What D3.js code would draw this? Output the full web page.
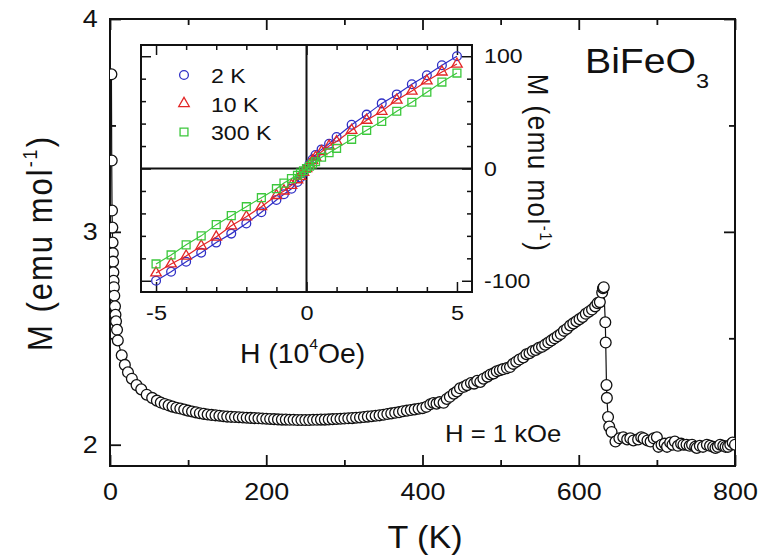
<!DOCTYPE html>
<html>
<head>
<meta charset="utf-8">
<script src="https://cdn.jsdelivr.net/npm/d3@7"></script>
<style>
  body { margin: 0; background: #fff; }
  svg { display: block; }
</style>
</head>
<body>
<div id="chart"></div>
<script>
// main curve: M(T) at H = 1 kOe
var tempK = [1.8, 2.2, 2.6, 3, 3.3, 3.6, 4, 4.3, 4.6, 5, 5.5, 6.4, 7, 7.7, 9, 10, 15, 19, 23, 28, 34, 40, 47, 54,
  60, 65, 70, 75, 80, 85, 90, 95, 100, 105, 110, 115, 120, 125, 130, 135, 140, 145, 150, 155, 160, 165, 170,
  175, 180, 185, 190, 195, 200, 205, 210, 215, 220, 225, 230, 235, 240, 245, 250, 255, 260, 265, 270, 275,
  280, 285, 290, 295, 300, 305, 310, 315, 320, 325, 330, 335, 340, 345, 350, 355, 360, 365, 370, 375, 380,
  385, 390, 395, 400, 405, 410, 414, 418, 422, 427, 431, 435, 440, 444, 448, 453, 457, 462, 466, 470, 474,
  478, 483, 487, 491, 495, 499, 503, 508, 512, 516, 520, 524, 529, 533, 537, 541, 545, 549, 553, 557, 561,
  565, 569, 573, 577, 581, 585, 589, 593, 597, 601, 605, 609, 613, 617, 621, 624, 627, 630, 631, 632,
  634, 634.5, 635.5, 636, 637.5, 639, 642, 647, 652, 657, 662, 666, 670, 676, 680, 683, 688, 692, 696, 700,
  702, 706, 710, 713, 717, 720, 723, 727, 731, 734, 738, 742, 745, 749, 751, 755, 759, 764, 768, 772, 775,
  778, 781, 785, 788, 791, 794, 797, 800];
var magT = [3.74, 3.335, 3.10, 3.02, 2.95, 2.90, 2.86, 2.81, 2.77, 2.74, 2.70, 2.65, 2.61, 2.58, 2.54, 2.49,
  2.42, 2.375, 2.34, 2.31, 2.28, 2.26, 2.235, 2.22,
  2.207, 2.198, 2.191, 2.185, 2.179, 2.174, 2.170, 2.165, 2.160, 2.156, 2.152, 2.148, 2.145, 2.142, 2.140,
  2.138, 2.136, 2.134, 2.132, 2.131, 2.130, 2.129, 2.128, 2.127, 2.126, 2.125, 2.124, 2.123, 2.122, 2.121,
  2.120, 2.119, 2.118, 2.118, 2.117, 2.117, 2.116, 2.116, 2.116, 2.116, 2.117, 2.117, 2.118, 2.118, 2.119,
  2.120, 2.121, 2.122, 2.123, 2.124, 2.125, 2.127, 2.128, 2.130, 2.132, 2.134, 2.136, 2.138, 2.141, 2.144,
  2.147, 2.150, 2.153, 2.157, 2.160, 2.163, 2.166, 2.169, 2.172, 2.178, 2.190, 2.196, 2.193, 2.200, 2.197,
  2.215, 2.225, 2.240, 2.250, 2.265, 2.272, 2.280, 2.290, 2.287, 2.300, 2.295, 2.310, 2.320, 2.330, 2.335,
  2.345, 2.350, 2.355, 2.360, 2.365, 2.380, 2.390, 2.400, 2.410, 2.425, 2.430, 2.440, 2.445, 2.455, 2.460,
  2.470, 2.480, 2.490, 2.500, 2.510, 2.520, 2.535, 2.545, 2.560, 2.570, 2.580, 2.590, 2.600, 2.615, 2.625,
  2.635, 2.650, 2.665, 2.670, 2.715, 2.735, 2.740,
  2.575, 2.48, 2.28, 2.22, 2.13, 2.085, 2.06, 2.015, 2.03, 2.035, 2.025, 2.03, 2.02, 2.025, 2.035, 2.03,
  2.02, 2.015, 2.03, 2.035, 1.99, 2.00, 2.005, 1.99, 2.01, 2.00, 2.015, 1.995, 2.005, 2.00, 2.00, 1.995,
  2.00, 1.99, 1.985, 1.995, 1.99, 2.00, 1.995, 1.99, 1.985, 1.99, 2.00, 1.995, 1.99, 1.99, 2.00, 2.01, 2.00];

// inset: M(H) loops
var fieldH = [-5, -4.5, -4, -3.5, -3, -2.5, -2, -1.5, -1, -0.75, -0.5, -0.3, -0.2, -0.1, 0,
  0.1, 0.2, 0.3, 0.5, 0.75, 1, 1.5, 2, 2.5, 3, 3.5, 4, 4.5, 5];
var m2K = [-100, -92, -83, -75, -66, -58, -49, -39, -28, -23, -18, -12, -8, -4, 0,
  4, 8, 12, 17, 22, 28, 39, 48, 58, 66, 75, 83, 92, 100];
var m10K = [-93, -85, -78, -69, -61, -51, -43, -34, -24, -20, -15, -10, -7, -3.5, 0,
  3.5, 7, 10, 15, 20, 24, 34, 43, 51, 61, 69, 78, 86, 93];
var m300K = [-85, -77, -68, -60, -50, -42, -34, -26, -18, -13, -9, -6, -4, -2, 0,
  2, 4, 6, 10, 14, 18, 26, 34, 42, 51, 59, 68, 77, 85];
var seriesNames = ["2 K", "10 K", "300 K"];
var seriesColors = ["#2f2fc6", "#e32626", "#3cc83c"];

var xMajor = [0, 200, 400, 600, 800], xMinor = [100, 300, 500, 700];
var yMajor = [2, 3, 4], yMinor = [2.5, 3.5];
var hMinor = [-4, -3, -2, -1, 1, 2, 3, 4], hMajor = [-5, 0, 5];
var mMinor = [-80, -60, -40, -20, 20, 40, 60, 80], mMajor = [-100, 0, 100];

var FONT = "'Liberation Sans', Arial, Helvetica, sans-serif";
var W = 760, H = 559;

var svg = d3.select("#chart").append("svg")
  .attr("width", W).attr("height", H)
  .style("font-family", FONT);

// ---- main plot ----
var x = d3.scaleLinear().domain([0, 800]).range([110, 735]);
var y = d3.scaleLinear().domain([1.9, 4]).range([466, 19]);

svg.append("clipPath").attr("id", "mainclip")
  .append("rect")
  .attr("x", x(0)).attr("y", y(4))
  .attr("width", x(800) - x(0)).attr("height", y(1.9) - y(4));

function tidy(g, sw) {
  g.select(".domain").remove();
  g.selectAll("line").attr("stroke", "#111").attr("stroke-width", sw);
  g.selectAll("text").attr("fill", "#111").style("font-family", FONT);
}

// ticks (inward)
svg.append("g").attr("transform", `translate(0,${y(1.9)})`)
  .call(d3.axisBottom(x).tickValues(xMinor).tickSize(-6).tickFormat(""))
  .call(tidy, 1.8);
svg.append("g").attr("transform", `translate(0,${y(1.9)})`)
  .call(d3.axisBottom(x).tickValues(xMajor).tickSize(-11).tickPadding(17).tickFormat(d => String(d)))
  .call(tidy, 1.8)
  .selectAll("text").attr("font-size", 24).attr("transform", "scale(1.12,1)");
svg.append("g").attr("transform", `translate(0,${y(4)})`)
  .call(d3.axisTop(x).tickValues(xMinor).tickSize(-6).tickFormat(""))
  .call(tidy, 1.8);
svg.append("g").attr("transform", `translate(0,${y(4)})`)
  .call(d3.axisTop(x).tickValues(xMajor).tickSize(-11).tickFormat(""))
  .call(tidy, 1.8);

svg.append("g").attr("transform", `translate(${x(0)},0)`)
  .call(d3.axisLeft(y).tickValues(yMinor).tickSize(-6).tickFormat(""))
  .call(tidy, 1.8);
svg.append("g").attr("transform", `translate(${x(0)},0)`)
  .call(d3.axisLeft(y).tickValues(yMajor).tickSize(-11).tickPadding(11).tickFormat(d => String(d)))
  .call(tidy, 1.8)
  .selectAll("text").attr("font-size", 24).attr("transform", "scale(1.12,1)");
svg.append("g").attr("transform", `translate(${x(800)},0)`)
  .call(d3.axisRight(y).tickValues(yMinor).tickSize(-6).tickFormat(""))
  .call(tidy, 1.8);
svg.append("g").attr("transform", `translate(${x(800)},0)`)
  .call(d3.axisRight(y).tickValues(yMajor).tickSize(-11).tickFormat(""))
  .call(tidy, 1.8);

// frame
svg.append("rect")
  .attr("x", x(0)).attr("y", y(4))
  .attr("width", x(800) - x(0)).attr("height", y(1.9) - y(4))
  .attr("fill", "none").attr("stroke", "#111").attr("stroke-width", 2);

// data
var mtData = tempK.map((t, i) => ({ t: t, m: magT[i] }));
var plotArea = svg.append("g").attr("clip-path", "url(#mainclip)");
plotArea.append("path")
  .datum(mtData)
  .attr("d", d3.line().x(d => x(d.t)).y(d => y(d.m)))
  .attr("fill", "none").attr("stroke", "#111").attr("stroke-width", 1.2);
plotArea.selectAll(".mt-circle")
  .data(mtData)
  .enter()
  .append("circle")
  .attr("class", "mt-circle")
  .attr("cx", d => x(d.t))
  .attr("cy", d => y(d.m))
  .attr("r", 5.4)
  .attr("fill", "#fff")
  .attr("stroke", "#111")
  .attr("stroke-width", 1.3);

// axis titles
svg.append("text")
  .attr("transform", `translate(425,548) scale(1.1,1)`)
  .attr("text-anchor", "middle")
  .attr("font-size", 31)
  .attr("fill", "#111")
  .text("T (K)");

var yTitle = svg.append("text")
  .attr("transform", `translate(52,243) scale(1.12,1) rotate(-90)`)
  .attr("text-anchor", "middle")
  .attr("font-size", 31)
  .attr("letter-spacing", 2)
  .attr("fill", "#111");
yTitle.append("tspan").text("M (emu mol");
yTitle.append("tspan").attr("font-size", 18).attr("dy", -13).text("-1");
yTitle.append("tspan").attr("dy", 13).text(")");

// labels in the plot
var bfo = svg.append("text")
  .attr("transform", "translate(585,73) scale(1.12,1)")
  .attr("font-size", 35)
  .attr("fill", "#111");
bfo.append("tspan").text("BiFeO");
bfo.append("tspan").attr("font-size", 21).attr("dy", 15).text("3");

svg.append("text")
  .attr("transform", "translate(445,442) scale(1.07,1)")
  .attr("font-size", 24)
  .attr("fill", "#111")
  .text("H = 1 kOe");

// ---- inset ----
var hx = d3.scaleLinear().domain([-5.5, 5.5]).range([141, 472]);
var my = d3.scaleLinear().domain([-110, 110]).range([292, 45]);

svg.append("rect")
  .attr("x", hx(-5.5)).attr("y", my(110))
  .attr("width", hx(5.5) - hx(-5.5)).attr("height", my(-110) - my(110))
  .attr("fill", "#fff");

svg.append("g").attr("transform", `translate(0,${my(-110)})`)
  .call(d3.axisBottom(hx).tickValues(hMinor).tickSize(-5).tickFormat(""))
  .call(tidy, 1.5);
svg.append("g").attr("transform", `translate(0,${my(-110)})`)
  .call(d3.axisBottom(hx).tickValues(hMajor).tickSize(-10).tickPadding(13).tickFormat(d => String(d)))
  .call(tidy, 1.5)
  .selectAll("text").attr("font-size", 21).attr("transform", "scale(1.12,1)");
svg.append("g").attr("transform", `translate(0,${my(110)})`)
  .call(d3.axisTop(hx).tickValues(hMinor).tickSize(-5).tickFormat(""))
  .call(tidy, 1.5);
svg.append("g").attr("transform", `translate(0,${my(110)})`)
  .call(d3.axisTop(hx).tickValues(hMajor).tickSize(-10).tickFormat(""))
  .call(tidy, 1.5);

svg.append("g").attr("transform", `translate(${hx(-5.5)},0)`)
  .call(d3.axisLeft(my).tickValues(mMinor).tickSize(-5).tickFormat(""))
  .call(tidy, 1.5);
svg.append("g").attr("transform", `translate(${hx(-5.5)},0)`)
  .call(d3.axisLeft(my).tickValues(mMajor).tickSize(-10).tickFormat(""))
  .call(tidy, 1.5);
svg.append("g").attr("transform", `translate(${hx(5.5)},0)`)
  .call(d3.axisRight(my).tickValues(mMinor).tickSize(-5).tickFormat(""))
  .call(tidy, 1.5);
svg.append("g").attr("transform", `translate(${hx(5.5)},0)`)
  .call(d3.axisRight(my).tickValues(mMajor).tickSize(-10).tickPadding(11).tickFormat(d => String(d)))
  .call(tidy, 1.5)
  .selectAll("text").attr("font-size", 21).attr("transform", "scale(1.1,1)");

// zero lines
svg.append("line")
  .attr("x1", hx(0)).attr("x2", hx(0)).attr("y1", my(110)).attr("y2", my(-110))
  .attr("stroke", "#111").attr("stroke-width", 2);
svg.append("line")
  .attr("x1", hx(-5.5)).attr("x2", hx(5.5)).attr("y1", my(0)).attr("y2", my(0))
  .attr("stroke", "#111").attr("stroke-width", 2);

svg.append("rect")
  .attr("x", hx(-5.5)).attr("y", my(110))
  .attr("width", hx(5.5) - hx(-5.5)).attr("height", my(-110) - my(110))
  .attr("fill", "none").attr("stroke", "#111").attr("stroke-width", 2);

var loops = [m2K, m10K, m300K];
var shapes = [d3.symbolCircle, d3.symbolTriangle, d3.symbolSquare];
var shapeSizes = [60, 48, 62];
var mhLine = d3.line().x(d => hx(d.h)).y(d => my(d.m));

loops.forEach(function (vals, k) {
  var pts = fieldH.map((h, i) => ({ h: h, m: vals[i] }));
  svg.append("path")
    .datum(pts)
    .attr("d", mhLine)
    .attr("fill", "none")
    .attr("stroke", seriesColors[k])
    .attr("stroke-width", 1.2);
  svg.selectAll(".mh-" + k)
    .data(pts)
    .enter()
    .append("path")
    .attr("class", "mh-" + k)
    .attr("transform", d => `translate(${hx(d.h)},${my(d.m)})`)
    .attr("d", d3.symbol().type(shapes[k]).size(shapeSizes[k]))
    .attr("fill", "none")
    .attr("stroke", seriesColors[k])
    .attr("stroke-width", 1.3);
});

// legend
var legend = svg.append("g");
seriesNames.forEach(function (name, k) {
  var ly = 75 + k * 28.5;
  legend.append("path")
    .attr("transform", `translate(184,${ly})`)
    .attr("d", d3.symbol().type(shapes[k]).size(shapeSizes[k]))
    .attr("fill", "none")
    .attr("stroke", seriesColors[k])
    .attr("stroke-width", 1.3);
  legend.append("text")
    .attr("transform", `translate(211,${ly + 8}) scale(1.1,1)`)
    .attr("font-size", 21)
    .attr("fill", "#111")
    .text(name);
});

// inset axis titles
var hTitle = svg.append("text")
  .attr("transform", "translate(240,363) scale(1.05,1)")
  .attr("font-size", 27)
  .attr("fill", "#111");
hTitle.append("tspan").text("H (10");
hTitle.append("tspan").attr("font-size", 15).attr("dy", -14).text("4");
hTitle.append("tspan").attr("dy", 14).text("Oe)");

var mTitle = svg.append("text")
  .attr("transform", "translate(528,163) scale(1.1,1) rotate(90)")
  .attr("text-anchor", "middle")
  .attr("font-size", 26)
  .attr("letter-spacing", 1.5)
  .attr("fill", "#111");
mTitle.append("tspan").text("M (emu mol");
mTitle.append("tspan").attr("font-size", 15).attr("dy", -11).text("-1");
mTitle.append("tspan").attr("dy", 11).text(")");
</script>
</body>
</html>
